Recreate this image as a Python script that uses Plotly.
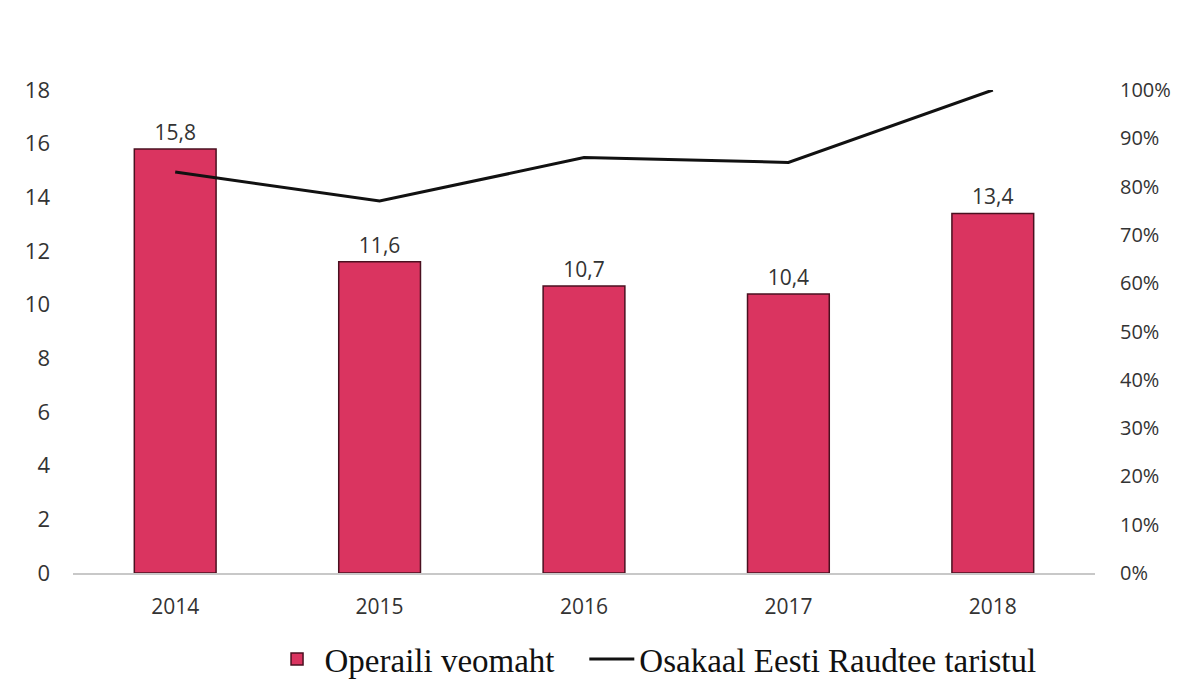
import plotly.graph_objects as go

years = ["2014", "2015", "2016", "2017", "2018"]
volume = [15.8, 11.6, 10.7, 10.4, 13.4]
share = [0.83, 0.77, 0.86, 0.85, 1.00]
left_ticks = [0, 2, 4, 6, 8, 10, 12, 14, 16, 18]
right_ticks = [0, 0.1, 0.2, 0.3, 0.4, 0.5, 0.6, 0.7, 0.8, 0.9, 1.0]

fig = go.Figure()
fig.add_trace(go.Bar(
    x=years, y=volume, name="Operaili veomaht\u00a0\u00a0\u00a0",
    marker=dict(color="#DA3460", line=dict(color="#4a1020", width=1.5)),
    text=[f"{v:.1f}".replace(".", ",") for v in volume],
    textposition="outside", cliponaxis=False,
    textfont=dict(family="Open Sans", size=21, color="#333333"),
))
fig.add_trace(go.Scatter(
    x=years, y=share, name="Osakaal Eesti Raudtee taristul", yaxis="y2",
    mode="lines", line=dict(color="#111111", width=3),
))

fig.update_layout(
    width=1181, height=691,
    paper_bgcolor="white", plot_bgcolor="white",
    margin=dict(l=65, r=94, t=82, b=111),
    bargap=0.6,
    separators=", ",
    font=dict(family="Open Sans", size=21, color="#333333"),
    xaxis=dict(showline=True, linecolor="#c8c8c8", linewidth=1.5, ticks="",
               ticklabelstandoff=14,
               tickfont=dict(size=21, color="#333333")),
    yaxis=dict(range=[0, 18], tickvals=left_ticks, showgrid=False, zeroline=False,
               showline=False, ticks="", ticklabelstandoff=22,
               tickfont=dict(size=22, color="#333333")),
    yaxis2=dict(range=[0, 1.0], tickvals=right_ticks, tickformat=".0%", overlaying="y",
                side="right", showgrid=False, zeroline=False, showline=False,
                ticks="", ticklabelstandoff=24,
                tickfont=dict(size=20, color="#333333")),
    legend=dict(orientation="h", x=0.57, xanchor="center", y=-0.178, yanchor="middle",
                font=dict(family="Liberation Serif", size=33, color="#111111"),
                itemwidth=45, traceorder="normal"),
)

fig.write_html("out.html")
